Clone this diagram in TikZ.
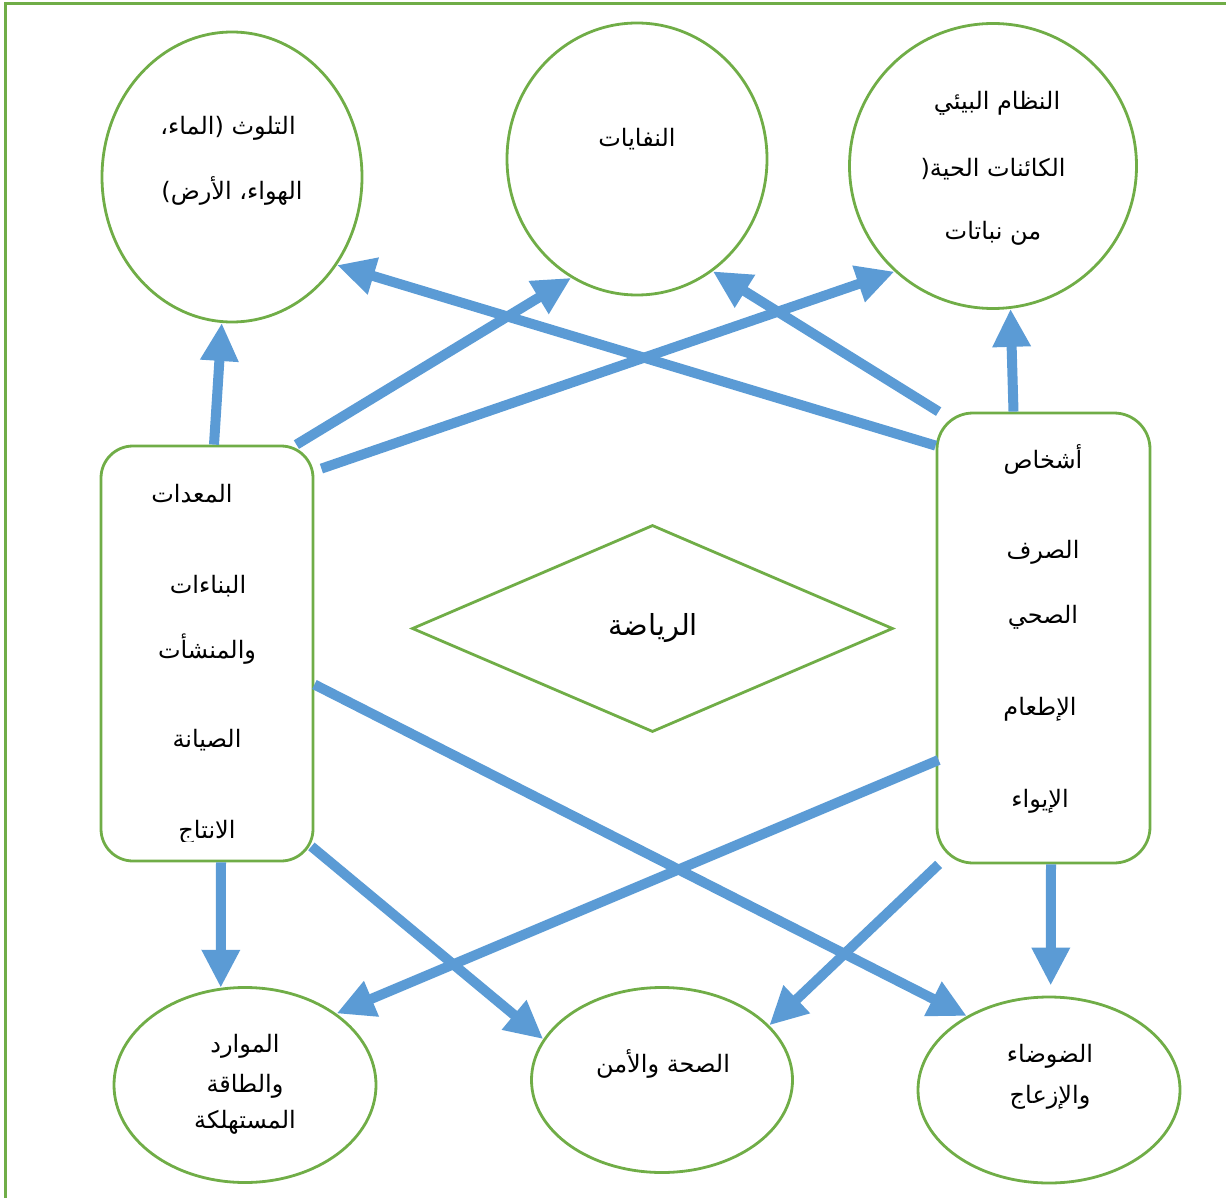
\documentclass[tikz,border=0pt]{standalone}
\usepackage{fontspec}
\newfontfamily\arabicfont[Script=Arabic]{DejaVu Sans}
\TeXXeTstate=1
\usetikzlibrary{shapes.geometric,arrows.meta}
\definecolor{lineGreen}{HTML}{70AD47}
\definecolor{arrowBlue}{HTML}{5B9BD5}

\newcommand{\ar}[1]{\arabicfont\beginR #1\endR}

\begin{document}
\begin{tikzpicture}[x=1pt,y=-1pt,
  oval/.style={ellipse,draw=lineGreen,line width=2.8pt,inner sep=0pt},
  roundbox/.style={draw=lineGreen,line width=2.8pt,rounded corners=32pt,inner sep=0pt},
  label/.style={anchor=base,inner sep=0pt,font=\fontsize{24}{28}\selectfont},
  bigarrow/.style={draw=arrowBlue,line width=10pt,-{Triangle[length=38pt,width=36pt]}}]

\useasboundingbox (0,0) rectangle (1226,1198);

% page frame: top and left rules
\draw[lineGreen,line width=3pt] (5,1198) -- (5,4) -- (1226,4);

% outcome ovals
\node[oval,minimum width=260pt,minimum height=290pt] (tl) at (232,177) {};
\node[oval,minimum width=260pt,minimum height=272pt] (tm) at (637,159) {};
\node[oval,minimum width=287pt,minimum height=285pt] (tr) at (993,166) {};
\node[oval,minimum width=262pt,minimum height=195pt] (bl) at (245,1085) {};
\node[oval,minimum width=261pt,minimum height=185pt] (bm) at (662,1080) {};
\node[oval,minimum width=262pt,minimum height=186pt] (br) at (1049,1090) {};

% source boxes
\node[roundbox,minimum width=212pt,minimum height=415pt] (lb) at (207,653.5) {};
\node[roundbox,minimum width=213pt,minimum height=450pt,rounded corners=36pt] (rb) at (1043.5,638) {};

% central diamond
\node[diamond,draw=lineGreen,line width=2.8pt,inner sep=0pt,
      minimum width=481pt,minimum height=207pt] (dm) at (652.5,628.5) {};

% labels
\node[label] (tlA) at (228,135) {\ar{التلوث (الماء،}};
\node[label] (tlB) at (232,200) {\ar{الهواء، الأرض)}};
\node[label] (tmA) at (637,147) {\ar{النفايات}};
\node[label] (trA) at (997,110) {\ar{النظام البيئي}};
\node[label] (trB) at (993,177) {\ar{الكائنات الحية(}};
\node[label] (trC) at (993,240) {\ar{من نباتات}};

\node[label] (lbA) at (192,502) {\ar{المعدات}};
\node[label] (lbB) at (208,593) {\ar{البناءات}};
\node[label] (lbC) at (207,658) {\ar{والمنشأت}};
\node[label] (lbD) at (207,747) {\ar{الصيانة}};
\begin{scope}
  \clip (110,800) rectangle (300,841);
  \node[label] (lbE) at (207,838) {\ar{الانتاج}};
\end{scope}

\node[label] (rbA) at (1043,468) {\ar{أشخاص}};
\node[label] (rbB) at (1043,558) {\ar{الصرف}};
\node[label] (rbC) at (1043,623) {\ar{الصحي}};
\node[label] (rbD) at (1040,715) {\ar{الإطعام}};
\node[label] (rbE) at (1040,807) {\ar{الإيواء}};

\node[label,font=\fontsize{29}{34}\selectfont] (dmA) at (653,635) {\ar{الرياضة}};

\node[label] (blA) at (245,1052) {\ar{الموارد}};
\node[label] (blB) at (245,1092) {\ar{والطاقة}};
\node[label] (blC) at (245,1128) {\ar{المستهلكة}};
\node[label] (bmA) at (663,1072) {\ar{الصحة والأمن}};
\node[label] (brA) at (1050,1062) {\ar{الضوضاء}};
\node[label] (brB) at (1050,1103) {\ar{والإزعاج}};

% connectors from the left box
\draw[bigarrow] ([xshift=7pt]lb.north) -- (tl.-94);
\draw[bigarrow] ([xshift=-18pt]lb.north east) -- (tm.-119);
\draw[bigarrow] ([xshift=7pt,yshift=-24pt]lb.north east) -- (tr.-133);
\draw[bigarrow] ([yshift=-31pt]lb.east) -- (br.138);
\draw[bigarrow] ([xshift=-3pt,yshift=16pt]lb.south east) -- (bm.161);
\draw[bigarrow] ([xshift=14pt]lb.south) -- (bl.104);

% connectors from the right box
\draw[bigarrow] ([yshift=-34pt]rb.north west) -- (tl.-40);
\draw[bigarrow] ([xshift=3pt]rb.north west) -- (tm.-56);
\draw[bigarrow] ([xshift=-30pt]rb.north) -- (tr.-83);
\draw[bigarrow] ([xshift=3pt,yshift=-122pt]rb.west) -- (bl.38);
\draw[bigarrow] ([xshift=3pt]rb.south west) -- (bm.27);
\draw[bigarrow,shorten >=10pt] ([xshift=7.5pt]rb.south) -- (br.89);

\end{tikzpicture}
\end{document}
